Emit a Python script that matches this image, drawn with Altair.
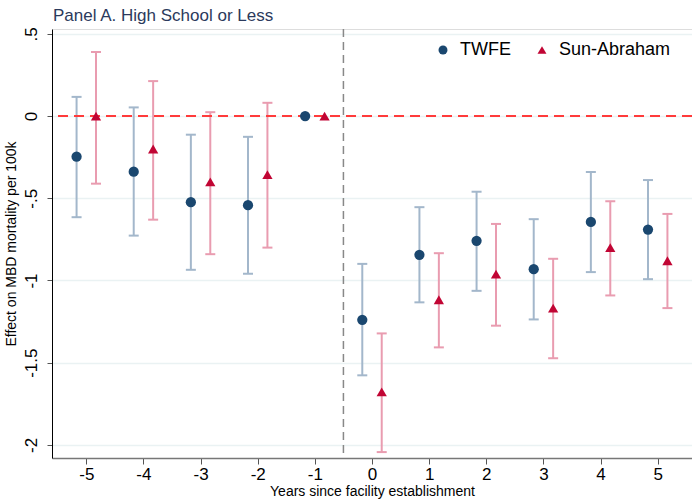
import altair as alt
import pandas as pd

years = [-5, -4, -3, -2, -1, 0, 1, 2, 3, 4, 5]

twfe_est = [-0.247, -0.338, -0.524, -0.542, 0.0, -1.239, -0.844, -0.759, -0.931, -0.644, -0.690]
twfe_hi = [0.117, 0.053, -0.113, -0.126, None, -0.899, -0.554, -0.460, -0.627, -0.340, -0.389]
twfe_lo = [-0.615, -0.727, -0.935, -0.959, None, -1.577, -1.133, -1.063, -1.237, -0.949, -0.992]

sa_est = [0.0, -0.200, -0.400, -0.356, 0.0, -1.678, -1.117, -0.961, -1.168, -0.800, -0.880]
sa_hi = [0.390, 0.213, 0.024, 0.081, None, -1.322, -0.834, -0.656, -0.868, -0.518, -0.595]
sa_lo = [-0.411, -0.630, -0.840, -0.800, None, -2.044, -1.407, -1.275, -1.473, -1.091, -1.168]

models = ["TWFE", "Sun-Abraham"]
dodge = {"TWFE": -0.17, "Sun-Abraham": 0.17}

rows = []
for i, yr in enumerate(years):
    rows.append(dict(year=yr, model="TWFE", est=twfe_est[i], lo=twfe_lo[i], hi=twfe_hi[i], off=dodge["TWFE"]))
    rows.append(dict(year=yr, model="Sun-Abraham", est=sa_est[i], lo=sa_lo[i], hi=sa_hi[i], off=dodge["Sun-Abraham"]))
df = pd.DataFrame(rows)

FONT = "Liberation Sans"
xscale = alt.Scale(domain=[-5.6, 5.6], nice=False, zero=False)
yscale = alt.Scale(domain=[-2.08, 0.53], nice=False, zero=False)

base = alt.Chart(df).transform_calculate(xp="datum.year + datum.off")

xenc = alt.X("xp:Q", scale=xscale, axis=alt.Axis(
    values=years, title="Years since facility establishment", grid=False,
    labelExpr="toString(datum.value)",
    labelFontSize=17, titleFontSize=14, titleFontWeight="normal", labelColor="#000", titleColor="#000",
    domainColor="#777", tickColor="#555", tickSize=6, labelPadding=2, titlePadding=2,
    labelFont=FONT, titleFont=FONT, domainWidth=1.5))
yenc = alt.Y("est:Q", scale=yscale, axis=alt.Axis(
    values=[0.5, 0, -0.5, -1, -1.5, -2], title="Effect on MBD mortality per 100k",
    labelExpr="replace(toString(datum.value), '0.', '.')",
    labelAngle=270, labelAlign="center", labelBaseline="bottom",
    labelFontSize=17, titleFontSize=14, titleFontWeight="normal", labelColor="#000", titleColor="#000",
    grid=True, gridColor="#eaf2f3", gridWidth=1.5,
    domainColor="#000", tickColor="#555", tickSize=5, labelPadding=7, titlePadding=4,
    labelFont=FONT, titleFont=FONT))

ci_color = alt.condition("datum.model == 'TWFE'", alt.value("#a3b7cb"), alt.value("#e99cb0"))

valid = base.transform_filter("isValid(datum.lo)")
ci = valid.mark_rule(strokeWidth=2).encode(
    x=xenc, y=alt.Y("lo:Q", scale=yscale), y2="hi:Q", color=ci_color)
cap_lo = valid.mark_tick(orient="horizontal", size=10, thickness=2, opacity=1).encode(
    x="xp:Q", y=alt.Y("lo:Q", scale=yscale), color=ci_color)
cap_hi = valid.mark_tick(orient="horizontal", size=10, thickness=2, opacity=1).encode(
    x="xp:Q", y=alt.Y("hi:Q", scale=yscale), color=ci_color)

zero = alt.Chart(pd.DataFrame({"y": [0]})).mark_rule(color="#ff3b3b", strokeWidth=2, strokeDash=[10, 6]).encode(
    y=alt.Y("y:Q", scale=yscale))
vline = alt.Chart(pd.DataFrame({"x": [-0.5]})).mark_rule(color="#888", strokeWidth=1.5, strokeDash=[8, 5]).encode(
    x=alt.X("x:Q", scale=xscale))

leg = alt.Legend(title=None, orient="none", legendX=382, legendY=12, direction="horizontal",
                 labelFontSize=18, labelFont=FONT, labelFontWeight="normal", labelColor="#000",
                 symbolSize=80, columnPadding=22, labelOffset=8)
pts = base.mark_point(filled=True, opacity=1, size=105).encode(
    x="xp:Q", y=alt.Y("est:Q", scale=yscale),
    color=alt.Color("model:N", scale=alt.Scale(domain=models, range=["#1a476f", "#c10534"]), legend=leg),
    shape=alt.Shape("model:N", scale=alt.Scale(domain=models, range=["circle", "triangle-up"]), legend=leg),
)

chart = alt.layer(
    alt.Chart(df).mark_point(opacity=0).encode(x=xenc, y=yenc),
    vline, ci, cap_lo, cap_hi, zero, pts
).properties(
    width=640, height=429,
    title=alt.TitleParams("Panel A. High School or Less", anchor="start", fontSize=17, font=FONT,
                          fontWeight="normal", color="#2b3a5c", offset=2, dx=1, frame="group"),
    autosize=alt.AutoSizeParams(type="none"),
    padding={"left": 52, "top": 29, "right": 0, "bottom": 44},
).configure_view(stroke=None).configure(background="white")

chart.save("out.html", embed_options={"renderer": "svg", "actions": False})
